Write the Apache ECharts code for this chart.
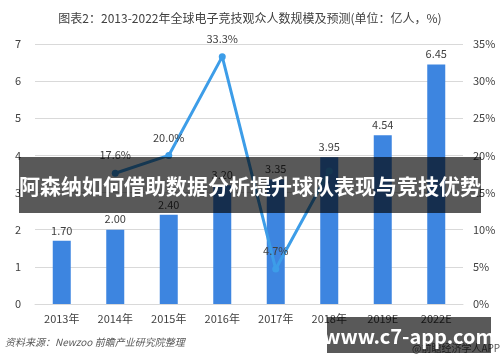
<!DOCTYPE html>
<html>
<head>
<meta charset="utf-8">
<script src="https://cdn.jsdelivr.net/npm/echarts@6/dist/echarts.min.js"></script>
<style>html,body{margin:0;padding:0;background:#fff}#c{width:500px;height:362px}</style>
</head>
<body>
<div id="c"></div>
<script>
var categories = ['2013年','2014年','2015年','2016年','2017年','2018年','2019E','2022E'];
var audience = [1.70, 2.00, 2.40, 3.20, 3.35, 3.95, 4.54, 6.45];
var growth = [null, 17.6, 20.0, 33.3, 4.7, 17.9, null, null];
var leftTicks = [0, 1, 2, 3, 4, 5, 6, 7];
var rightTicks = [0, 5, 10, 15, 20, 25, 30, 35];

var chart = echarts.init(document.getElementById('c'));
var font = '"Noto Sans CJK SC", "Noto Sans", sans-serif';
chart.setOption({
  animation: false,
  textStyle: {fontFamily: font},
  title: {
    text: '图表2：2013-2022年全球电子竞技观众人数规模及预测(单位：亿人，%)',
    left: 'center', top: 7,
    textStyle: {fontSize: 12, fontWeight: 'normal', color: '#404040', fontFamily: font}
  },
  grid: {left: 35, right: 37, top: 44, bottom: 58},
  xAxis: {
    type: 'category', data: categories,
    axisLine: {lineStyle: {color: '#d9d9d9'}},
    axisTick: {show: false},
    axisLabel: {color: '#404040', fontSize: 11, margin: 9}
  },
  yAxis: [{
    type: 'value', min: leftTicks[0], max: leftTicks[leftTicks.length-1], interval: 1,
    axisLine: {show: false}, axisTick: {show: false},
    splitLine: {lineStyle: {color: '#d9d9d9'}},
    axisLabel: {color: '#404040', fontSize: 11, margin: 14}
  }, {
    type: 'value', min: rightTicks[0], max: rightTicks[rightTicks.length-1], interval: 5,
    axisLine: {show: false}, axisTick: {show: false},
    splitLine: {show: false},
    axisLabel: {color: '#404040', fontSize: 11, margin: 10, formatter: '{value}%'}
  }],
  series: [{
    type: 'bar', data: audience, barWidth: 18,
    itemStyle: {color: '#3d85e0'},
    label: {show: true, position: 'top', color: '#404040', fontSize: 11,
      formatter: function(p){return p.value.toFixed(2);}}
  }, {
    type: 'line', yAxisIndex: 1, data: growth,
    lineStyle: {color: '#3d9de8', width: 3},
    itemStyle: {color: '#3d9de8'},
    symbol: 'circle', symbolSize: 7,
    label: {show: true, position: 'top', distance: 9, color: '#404040', fontSize: 11,
      formatter: function(p){return (p.value == null || p.dataIndex === 5) ? '' : p.value.toFixed(1) + '%';}}
  }],
  graphic: [
    {type: 'text', left: 5, top: 337, style: {text: '资料来源：Newzoo 前瞻产业研究院整理', fill: '#595959', font: 'italic 10px ' + font}},
    {type: 'text', left: 412, top: 343, style: {text: '@前瞻经济学人APP', fill: '#595959', font: '10px ' + font}},
    {type: 'rect', shape: {x: 19, y: 157, width: 462, height: 56}, style: {fill: 'rgba(0,0,0,0.65)'}, z: 100},
    {type: 'text', x: 250, y: 186, style: {text: '阿森纳如何借助数据分析提升球队表现与竞技优势', fill: '#fff', font: 'bold 21px ' + font, textAlign: 'center', textVerticalAlign: 'middle'}, z: 101},
    {type: 'rect', shape: {x: 327, y: 317, width: 164, height: 36}, style: {fill: 'rgba(0,0,0,0.65)'}, z: 100},
    {type: 'text', x: 409, y: 336, style: {text: 'www.c7-app.com', fill: '#fff', font: 'bold 20px ' + font, textAlign: 'center', textVerticalAlign: 'middle'}, z: 101}
  ]
});
</script>
</body>
</html>
